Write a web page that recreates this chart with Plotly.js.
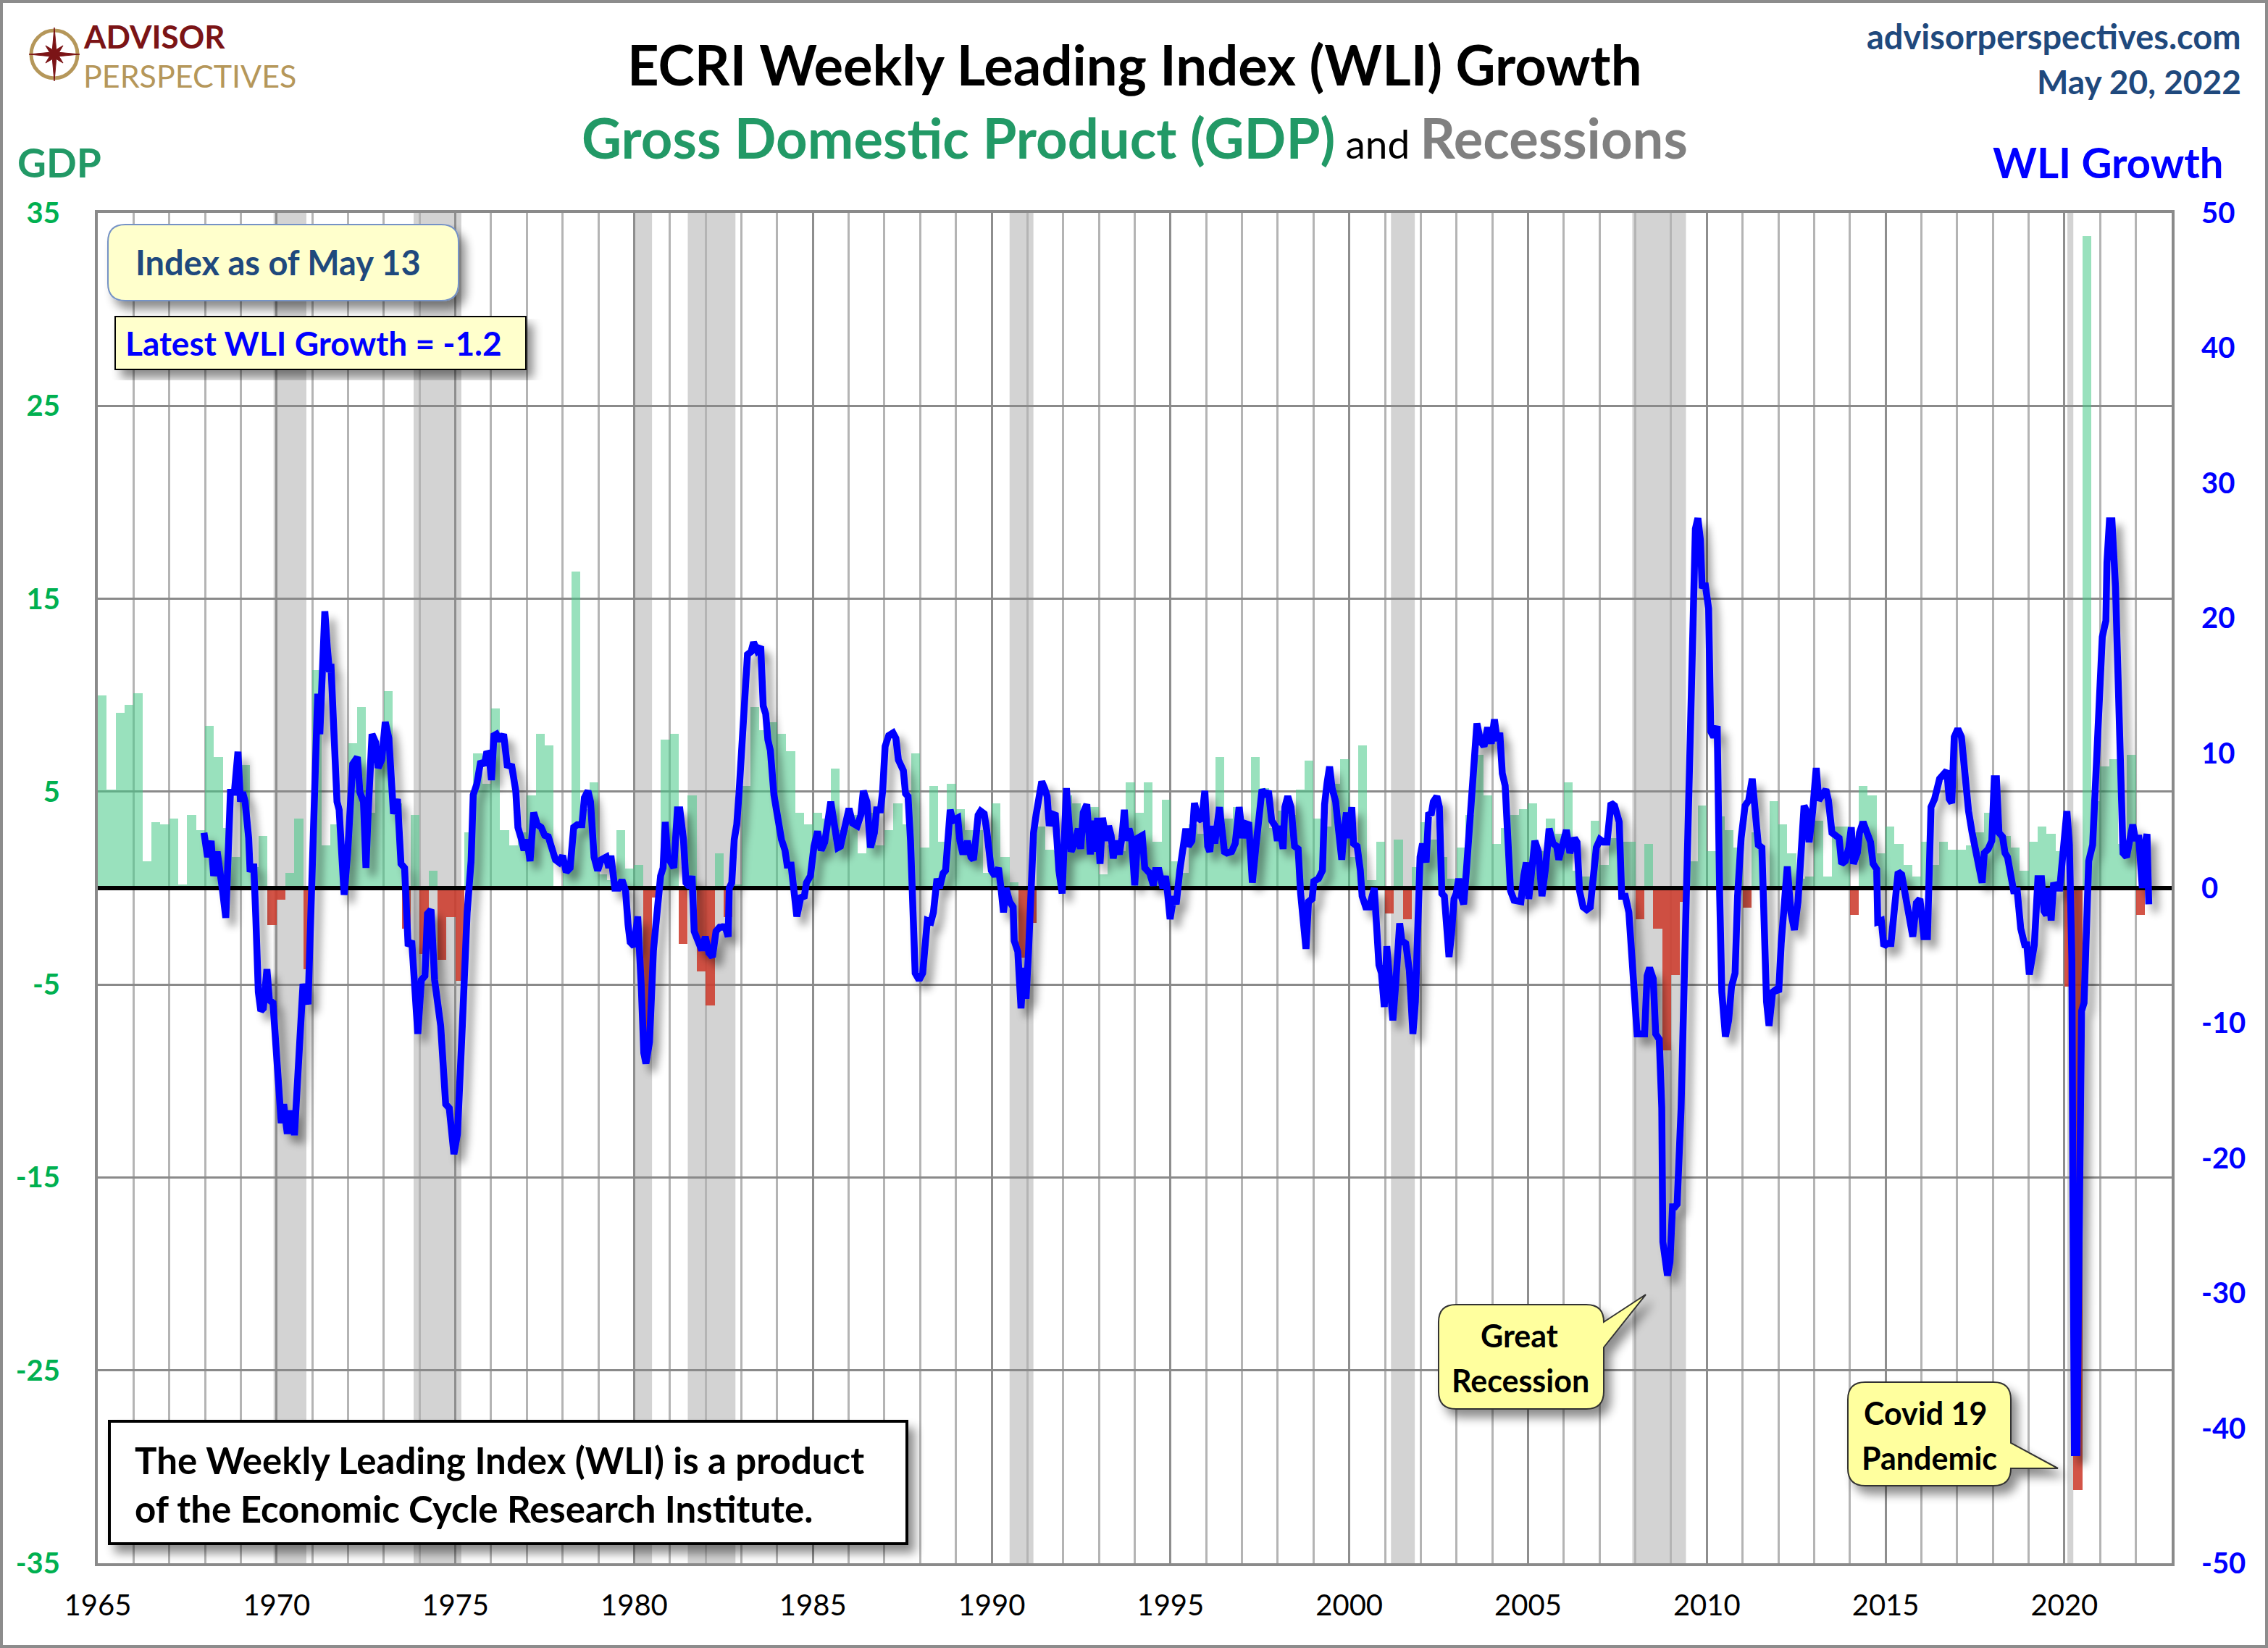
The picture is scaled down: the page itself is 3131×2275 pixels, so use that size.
<!DOCTYPE html>
<html>
<head>
<meta charset="utf-8">
<script src="https://cdn.plot.ly/plotly-3.0.1.min.js"></script>
<style>
html,body{margin:0;padding:0;background:#ffffff;}
#chart{width:3131px;height:2275px;}
</style>
</head>
<body>
<div id="chart"></div>
<script>
// ---------------- DATA ----------------
// Quarterly real GDP growth (annualized %), 1965 Q1 .. 2022 Q1
const gdpFirstYear = 1965;
const gdpGrowth = [
10.0,5.1,9.1,9.5,  10.1,1.4,3.4,3.3,  3.6,0.2,3.8,3.0,  8.4,6.8,3.1,1.6,  6.4,1.1,2.7,-1.9,
-0.6,0.8,3.6,-4.2, 11.3,2.2,3.3,1.1,  7.5,9.4,3.9,6.8,  10.2,4.4,-2.1,3.8, -3.4,0.9,-3.7,-1.5,
-4.8,2.9,7.0,5.4,  9.3,3.0,2.2,2.9,   4.8,8.0,7.4,0.0,  1.3,16.4,4.1,5.5, 0.7,0.4,3.0,1.0,
1.2,-8.0,-0.5,7.7, 8.0,-2.9,4.8,-4.3, -6.1,1.8,-1.5,0.2, 5.3,9.4,8.2,8.6, 8.0,7.1,3.9,3.3,
3.9,3.6,6.2,3.0,   3.8,1.8,3.9,2.2,   3.0,4.4,3.3,7.0,  2.1,5.3,2.4,5.4,  4.1,3.0,3.0,0.8,
4.4,1.6,0.3,-3.6,  -1.8,3.2,2.0,1.9,  4.8,4.4,4.0,4.2,  0.7,2.2,1.9,5.5,  3.9,5.5,2.4,4.6,
1.4,0.8,3.3,2.8,   2.6,6.8,3.6,4.2,   3.1,6.8,5.2,3.1,  4.0,3.8,5.1,6.6,  3.6,3.2,5.4,6.7,
1.6,7.4,0.4,2.4,   -1.3,2.5,-1.6,1.1, 3.4,2.5,1.6,0.5,  2.1,3.8,6.9,4.8,  2.3,3.1,3.8,4.1,
4.4,1.9,3.6,2.8,   5.5,0.9,0.6,3.5,   1.2,2.6,2.4,2.4,  -1.6,2.3,-2.1,-8.4, -4.5,-0.7,1.4,4.3,
1.9,3.7,3.0,2.1,   -1.0,2.9,-0.1,4.5, 3.3,1.8,0.5,0.6,  3.5,0.6,3.2,3.2,  -1.4,5.3,4.8,1.8,
3.2,2.3,1.2,0.6,   2.4,1.2,2.4,2.0,   2.0,2.2,2.9,3.9,  3.3,2.7,2.1,0.9,  2.4,3.2,2.8,1.9,
-5.1,-31.2,33.8,4.5, 6.3,6.7,2.3,6.9, -1.4
];

// ECRI WLI growth: [decimal year, growth %]
const wli1968to1975 = [
[1967.97,4.1],[1968.07,2.3],[1968.17,3.5],[1968.24,0.9],[1968.34,2.7],[1968.41,0.9],[1968.48,0.0],[1968.58,-2.2],
[1968.65,2.1],[1968.71,7.1],[1968.82,7.1],[1968.92,10.1],[1968.99,6.4],[1969.05,7.1],[1969.12,6.4],[1969.22,3.7],
[1969.26,1.2],[1969.36,1.8],[1969.42,-2.2],[1969.49,-7.7],[1969.56,-9.1],[1969.63,-8.9],[1969.73,-6.0],[1969.80,-8.3],
[1969.90,-8.5],[1969.96,-11.1],[1970.07,-16.0],[1970.13,-17.4],[1970.20,-16.0],[1970.30,-18.2],[1970.37,-16.7],[1970.44,-16.7],
[1970.50,-18.3],[1970.61,-13.9],[1970.74,-7.1],[1970.88,-8.6],[1970.98,0.3],[1971.08,10.1],[1971.11,14.3],[1971.15,14.4],
[1971.21,11.4],[1971.28,17.8],[1971.35,20.5],[1971.42,17.8],[1971.48,16.0],[1971.52,16.6],[1971.59,12.0],[1971.69,6.4],
[1971.75,5.8],[1971.82,2.1],[1971.89,-0.5],[1971.99,2.7],[1972.06,6.7],[1972.13,9.2],[1972.26,9.7],[1972.33,7.1],
[1972.43,6.4],[1972.50,1.5],[1972.56,5.5],[1972.67,11.4],[1972.77,10.8],[1972.84,8.9],[1972.94,9.5],[1973.04,12.3],
[1973.14,11.1],[1973.21,8.9],[1973.27,5.5],[1973.38,6.6],[1973.48,1.8],[1973.58,1.5],[1973.68,-4.3],[1973.78,-3.9],
[1973.85,-7.4],[1973.95,-10.8],[1974.05,-6.8],[1974.15,-6.5],[1974.22,-1.9],[1974.32,-1.6],[1974.42,-6.8],[1974.49,-8.0],
[1974.59,-10.2],[1974.73,-16.0],[1974.83,-16.3],[1974.96,-19.7],[1975.06,-18.2],[1975.20,-9.9]
];
const wli1975to1985 = [
[1975.33,-1.8],[1975.44,2.0],[1975.50,6.9],[1975.60,7.7],[1975.71,9.4],[1975.81,9.1],[1975.88,10.1],[1975.94,9.9],
[1976.01,8.0],[1976.08,11.3],[1976.15,11.4],[1976.25,10.9],[1976.35,11.4],[1976.45,9.1],[1976.58,9.0],[1976.69,7.2],
[1976.75,4.5],[1976.85,3.6],[1976.92,2.8],[1977.00,3.6],[1977.09,2.0],[1977.19,5.6],[1977.29,4.7],[1977.40,4.5],
[1977.50,3.9],[1977.60,3.8],[1977.70,2.8],[1977.80,2.1],[1977.90,1.9],[1978.00,2.4],[1978.10,1.2],[1978.21,1.5],
[1978.31,4.5],[1978.41,4.7],[1978.54,4.7],[1978.61,6.7],[1978.71,7.2],[1978.78,6.4],[1978.88,2.3],[1978.98,1.3],
[1979.08,2.1],[1979.22,2.3],[1979.29,1.5],[1979.35,2.4],[1979.46,0.0],[1979.56,0.0],[1979.66,0.6],[1979.76,-0.2],
[1979.83,-2.7],[1979.89,-4.0],[1980.00,-4.3],[1980.10,-2.1],[1980.20,-7.3],[1980.27,-12.2],[1980.33,-13.0],[1980.43,-11.4],
[1980.54,-4.6],[1980.64,-1.3],[1980.74,0.9],[1980.81,1.5],[1980.87,4.9],[1980.94,2.3],[1981.04,1.7],[1981.11,1.5],
[1981.21,5.8],[1981.28,5.8],[1981.38,3.6],[1981.45,0.4],[1981.55,0.1],[1981.62,0.9],[1981.68,-3.2],[1981.79,-4.0],
[1981.89,-4.6],[1981.99,-3.6],[1982.09,-4.8],[1982.19,-5.1],[1982.29,-3.2],[1982.39,-2.9],[1982.50,-2.9],[1982.53,-2.7],
[1982.63,-3.6],[1982.66,0.0],[1982.73,0.4],[1982.80,3.6],[1982.87,4.7],[1982.93,6.9],[1983.00,10.2],[1983.07,14.6],
[1983.17,17.3],[1983.27,17.5],[1983.34,18.2],[1983.44,17.6],[1983.54,17.9],[1983.61,13.5],[1983.68,12.9],[1983.74,11.0],
[1983.81,10.2],[1983.91,6.9],[1984.01,5.3],[1984.12,3.6],[1984.22,2.8],[1984.28,1.7],[1984.39,1.7],[1984.49,-0.7],
[1984.55,-2.1],[1984.66,-0.7],[1984.76,-0.6],[1984.82,0.4],[1984.93,0.9],[1985.03,3.1],[1985.13,4.2],[1985.23,2.8],
[1985.33,3.4]
];
const wli1985to1995 = [
[1985.50,6.4],[1985.60,4.8],[1985.70,3.0],[1985.77,3.1],[1985.87,4.4],[1986.01,5.9],[1986.11,4.8],[1986.24,4.6],
[1986.34,5.4],[1986.41,7.2],[1986.51,6.4],[1986.61,3.0],[1986.72,4.1],[1986.78,5.8],[1986.89,5.8],[1986.95,7.2],
[1987.02,10.5],[1987.12,11.3],[1987.24,11.5],[1987.32,11.1],[1987.39,9.5],[1987.53,8.7],[1987.59,7.0],[1987.66,6.8],
[1987.73,3.5],[1987.80,-4.1],[1987.86,-6.3],[1987.97,-6.8],[1988.07,-6.3],[1988.20,-2.4],[1988.30,-2.5],[1988.37,-1.8],
[1988.47,0.7],[1988.54,0.0],[1988.64,1.1],[1988.71,1.3],[1988.78,4.8],[1988.84,5.8],[1988.91,5.0],[1989.05,5.2],
[1989.11,3.5],[1989.18,2.7],[1989.25,2.7],[1989.32,3.5],[1989.42,2.3],[1989.49,2.1],[1989.55,3.5],[1989.62,5.4],
[1989.69,5.7],[1989.79,5.5],[1989.86,4.3],[1989.92,2.9],[1989.99,1.3],[1990.09,0.9],[1990.19,1.5],[1990.26,0.0],
[1990.33,-1.8],[1990.40,0.0],[1990.50,-1.0],[1990.60,-1.4],[1990.63,-3.9],[1990.73,-4.7],[1990.77,-6.5],[1990.82,-8.9],
[1990.89,-5.9],[1990.96,-8.2],[1991.03,-4.7],[1991.11,2.1],[1991.17,4.1],[1991.24,5.4],[1991.31,6.8],[1991.40,7.9],
[1991.48,7.4],[1991.55,6.8],[1991.61,4.6],[1991.68,5.5],[1991.78,5.4],[1991.88,1.3],[1991.97,-0.4],[1992.02,3.1],
[1992.09,7.4],[1992.15,5.2],[1992.22,2.7],[1992.32,3.3],[1992.42,4.4],[1992.49,2.9],[1992.56,5.6],[1992.66,6.2],
[1992.76,2.5],[1992.83,5.0],[1992.90,2.7],[1992.96,5.2],[1993.03,1.8],[1993.10,5.2],[1993.20,3.5],[1993.27,4.6],
[1993.34,3.9],[1993.40,2.2],[1993.47,3.5],[1993.57,2.5],[1993.64,3.7],[1993.71,5.8],[1993.77,3.5],[1993.84,4.4],
[1993.91,3.7],[1994.00,0.2],[1994.08,3.7],[1994.21,3.9],[1994.28,1.5],[1994.42,1.1],[1994.52,0.2],[1994.58,1.3],
[1994.68,1.3],[1994.79,0.0],[1994.86,0.9],[1994.92,-0.4],[1994.99,-2.3],[1995.09,-0.6],[1995.16,-1.2],[1995.26,1.3],
[1995.36,3.1],[1995.43,4.4],[1995.50,3.1],[1995.60,3.5]
];
const wli1995to2005 = [
[1995.67,6.3],[1995.77,5.2],[1995.87,5.0],[1995.96,7.2],[1996.04,3.1],[1996.10,2.7],[1996.17,4.6],[1996.24,3.3],
[1996.37,6.0],[1996.51,2.7],[1996.58,2.6],[1996.71,2.7],[1996.81,3.3],[1996.92,6.0],[1997.02,3.7],[1997.08,4.8],
[1997.19,4.7],[1997.29,0.4],[1997.39,3.1],[1997.49,6.0],[1997.56,7.3],[1997.66,6.8],[1997.74,7.2],[1997.83,5.0],
[1997.93,4.6],[1997.99,3.5],[1998.06,4.6],[1998.15,2.9],[1998.20,6.0],[1998.28,6.8],[1998.37,6.0],[1998.47,3.1],
[1998.57,2.9],[1998.64,-0.4],[1998.72,-3.4],[1998.79,-4.5],[1998.86,-1.0],[1998.96,-0.8],[1999.01,0.5],[1999.14,0.7],
[1999.25,1.3],[1999.31,6.2],[1999.38,7.8],[1999.45,9.0],[1999.52,7.4],[1999.62,6.4],[1999.68,4.8],[1999.79,2.1],
[1999.85,4.1],[1999.92,5.6],[1999.99,3.7],[2000.07,6.0],[2000.12,3.3],[2000.22,3.1],[2000.31,1.3],[2000.36,-0.6],
[2000.46,-1.4],[2000.56,-1.4],[2000.70,0.0],[2000.77,-3.7],[2000.83,-5.7],[2000.90,-6.3],[2000.98,-8.8],[2001.05,-4.3],
[2001.14,-7.1],[2001.22,-9.8],[2001.30,-7.1],[2001.41,-2.6],[2001.47,-3.9],[2001.58,-4.1],[2001.68,-6.1],[2001.78,-10.8],
[2001.85,-8.4],[2001.91,-2.6],[2001.98,2.3],[2002.05,3.3],[2002.15,1.9],[2002.22,5.6],[2002.29,5.4],[2002.35,6.4],
[2002.45,6.8],[2002.52,6.0],[2002.59,-0.4],[2002.66,-0.6],[2002.72,-2.8],[2002.79,-5.1],[2002.86,-3.4],[2002.93,-0.8],
[2002.99,-0.4],[2003.06,0.7],[2003.13,-0.6],[2003.20,-1.2],[2003.27,1.1],[2003.37,5.0],[2003.43,8.0],[2003.50,9.7],
[2003.57,12.2],[2003.67,10.9],[2003.77,10.5],[2003.87,11.9],[2003.97,10.7],[2004.06,12.5],[2004.14,10.9],[2004.21,11.5],
[2004.28,8.5],[2004.36,7.6],[2004.45,1.9],[2004.51,-0.2],[2004.61,-0.9],[2004.71,-0.9],[2004.80,-1.0],[2004.88,0.9],
[2004.95,1.9],[2005.02,-0.8],[2005.09,1.1],[2005.19,3.5],[2005.29,2.7],[2005.39,-0.6],[2005.49,1.5],[2005.59,4.4],
[2005.70,3.3],[2005.80,3.1],[2005.86,2.1],[2005.93,2.7]
];
const wli2006to2015 = [
[2006.07,4.3],[2006.17,2.6],[2006.30,3.7],[2006.37,3.4],[2006.44,-0.2],[2006.54,-1.4],[2006.64,-1.6],[2006.74,-1.4],
[2006.84,1.4],[2006.91,3.0],[2007.01,3.6],[2007.11,3.4],[2007.21,3.4],[2007.32,6.3],[2007.42,6.1],[2007.55,4.9],
[2007.62,-0.6],[2007.72,-0.6],[2007.82,-1.8],[2007.89,-4.5],[2007.96,-7.7],[2008.05,-10.8],[2008.16,-10.8],[2008.26,-10.8],
[2008.33,-6.5],[2008.40,-5.9],[2008.50,-6.7],[2008.57,-10.8],[2008.67,-11.2],[2008.74,-16.3],[2008.77,-26.2],[2008.84,-28.1],
[2008.90,-28.7],[2008.97,-27.7],[2009.04,-23.6],[2009.11,-23.6],[2009.17,-23.4],[2009.28,-16.3],[2009.38,-4.5],[2009.48,7.3],
[2009.55,11.2],[2009.62,23.8],[2009.68,26.6],[2009.75,27.4],[2009.82,25.8],[2009.87,22.2],[2009.95,22.6],[2010.05,20.7],
[2010.11,11.6],[2010.19,11.2],[2010.29,12.0],[2010.36,-0.6],[2010.42,-7.7],[2010.52,-11.0],[2010.61,-9.8],[2010.69,-7.3],
[2010.79,-6.3],[2010.86,-0.6],[2010.96,3.7],[2011.07,6.1],[2011.17,6.5],[2011.27,8.1],[2011.34,6.5],[2011.44,3.2],
[2011.54,3.0],[2011.61,-6.1],[2011.67,-8.4],[2011.74,-10.2],[2011.84,-7.7],[2011.94,-7.5],[2012.01,-7.7],[2012.08,-4.1],
[2012.18,-1.0],[2012.25,1.6],[2012.35,-1.8],[2012.45,-3.1],[2012.55,-1.0],[2012.65,2.6],[2012.72,6.1],[2012.79,5.7],
[2012.86,3.4],[2012.96,5.7],[2013.06,8.9],[2013.13,6.5],[2013.23,6.9],[2013.33,7.3],[2013.40,6.5],[2013.50,4.1],
[2013.60,3.9],[2013.70,3.7],[2013.77,1.8],[2013.87,2.0],[2013.97,3.0],[2014.04,4.5],[2014.10,1.8],[2014.21,2.6],
[2014.27,4.1],[2014.37,4.9],[2014.48,4.1],[2014.58,3.4],[2014.65,1.8],[2014.75,1.4],[2014.78,-2.5],[2014.88,-2.4],
[2014.95,-4.3],[2015.05,-4.1],[2015.15,-4.1],[2015.25,-1.4],[2015.35,1.2],[2015.45,1.0],[2015.52,-0.2],[2015.62,-1.8],
[2015.69,-2.5]
];
const wli2015to2022 = [
[2015.76,-3.6],[2015.86,-1.1],[2015.96,-0.8],[2016.07,-3.6],[2016.17,-3.6],[2016.27,6.0],[2016.37,6.6],[2016.51,8.1],
[2016.61,8.4],[2016.71,8.7],[2016.78,6.6],[2016.85,6.3],[2016.92,11.2],[2017.02,11.8],[2017.12,11.2],[2017.22,8.1],
[2017.32,5.7],[2017.42,4.1],[2017.53,2.6],[2017.59,2.3],[2017.70,0.4],[2017.76,2.6],[2017.87,2.9],[2017.97,3.5],
[2018.04,8.1],[2018.10,8.1],[2018.17,4.1],[2018.27,3.8],[2018.34,2.6],[2018.41,2.3],[2018.51,0.4],[2018.58,-0.2],
[2018.68,-0.2],[2018.78,-3.0],[2018.89,-4.2],[2018.95,-4.2],[2019.02,-6.4],[2019.09,-4.8],[2019.16,-4.2],[2019.26,0.7],
[2019.36,0.7],[2019.43,-1.7],[2019.50,-2.0],[2019.56,0.0],[2019.63,-2.4],[2019.70,0.4],[2019.77,0.0],[2019.87,0.0],
[2019.97,3.2],[2020.07,5.7],[2020.14,3.2],[2020.21,-5.4],[2020.24,-23.9],[2020.28,-41.8],[2020.35,-41.8],[2020.41,-23.9],
[2020.48,-9.1],[2020.55,-8.5],[2020.62,-2.4],[2020.68,2.0],[2020.79,3.2],[2020.85,6.3],[2020.92,10.6],[2020.99,14.9],
[2021.06,18.6],[2021.16,19.8],[2021.19,24.1],[2021.26,27.2],[2021.33,27.2],[2021.43,22.3],[2021.50,16.7],[2021.57,11.8],
[2021.64,2.6],[2021.74,2.3],[2021.84,4.1],[2021.91,4.7],[2021.98,3.7],[2022.08,3.7],[2022.18,0.0],[2022.24,3.1],
[2022.31,4.0],[2022.36,-1.2]
];

// NBER recessions (peak month, trough month)
const recessionStart = ['1969-12','1973-11','1980-01','1981-07','1990-07','2001-03','2007-12','2020-02'];
const recessionEnd   = ['1970-11','1975-03','1980-07','1982-11','1991-03','2001-11','2009-06','2020-04'];

// Axis ticks
const xTickYears  = [1965,1970,1975,1980,1985,1990,1995,2000,2005,2010,2015,2020];
const gdpTickVals = [-35,-25,-15,-5,5,15,25,35];
const gdpTickText = ['-35','-25','-15','-5','5','15','25','35'];
const wliTickVals = [-50,-40,-30,-20,-10,0,10,20,30,40,50];
const wliTickText = ['-50','-40','-30','-20','-10','0','10','20','30','40','50'];

// ---------------- BUILD ----------------
const FONT = 'Lato, "Open Sans", "DejaVu Sans", sans-serif';
const X0 = 1965, X1 = 2023;

const gdpX = gdpGrowth.map((v, i) => gdpFirstYear + i / 4 + 0.125);
const gdpColors = gdpGrowth.map(v => v >= 0 ? 'rgba(70,200,135,0.55)' : 'rgba(205,60,45,0.88)');

const wliAll = [].concat(wli1968to1975, wli1975to1985, wli1985to1995, wli1995to2005, wli2006to2015, wli2015to2022);
const wliX = wliAll.map(p => p[0]);
const wliY = wliAll.map(p => p[1]);

const ym = s => { const [y, m] = s.split('-').map(Number); return y + (m - 1) / 12; };

const traces = [
  { type:'bar', x:gdpX, y:gdpGrowth, width:0.25, marker:{color:gdpColors, line:{width:0}},
    yaxis:'y', hoverinfo:'skip', showlegend:false },
  { type:'scatter', mode:'lines', x:[X0, X1], y:[0, 0], line:{color:'#000000', width:6},
    yaxis:'y', hoverinfo:'skip', showlegend:false },
  { type:'scatter', mode:'lines', x:wliX, y:wliY, line:{color:'#0000FF', width:9.5},
    yaxis:'y2', hoverinfo:'skip', showlegend:false }
];

// pixel -> paper conversions for decoration layout
const ML = 135, MT = 294, PW = 2863, PH = 1864, PB = MT + PH;
const px = x => (x - ML) / PW;
const py = y => (PB - y) / PH;
const P = (x, y) => px(x).toFixed(5) + ',' + py(y).toFixed(5);

function roundRect(x0, y0, x1, y1, r, ptr) {
  let d = 'M' + P(x0 + r, y0) + ' L' + P(x1 - r, y0) + ' Q' + P(x1, y0) + ' ' + P(x1, y0 + r);
  if (ptr) d += ' L' + P(x1, ptr.ya) + ' L' + P(ptr.tx, ptr.ty) + ' L' + P(x1, ptr.yb);
  d += ' L' + P(x1, y1 - r) + ' Q' + P(x1, y1) + ' ' + P(x1 - r, y1) +
       ' L' + P(x0 + r, y1) + ' Q' + P(x0, y1) + ' ' + P(x0, y1 - r) +
       ' L' + P(x0, y0 + r) + ' Q' + P(x0, y0) + ' ' + P(x0 + r, y0) + ' Z';
  return d;
}
function star(cx, cy) {
  const pts = [];
  for (let k = 0; k < 16; k++) {
    const ang = -Math.PI / 2 + k * Math.PI / 8;
    let r;
    if (k % 2 === 1) r = 7;
    else if (k % 4 === 0) r = (k % 8 === 0) ? 37 : 35;
    else r = 17;
    pts.push(P(cx + r * Math.cos(ang), cy + r * Math.sin(ang)));
  }
  return 'M' + pts.join(' L') + ' Z';
}

const shapes = [];
recessionStart.forEach((s, i) => {
  shapes.push({ type:'rect', xref:'x', yref:'paper', x0:ym(s), x1:ym(recessionEnd[i]), y0:0, y1:1,
    fillcolor:'#D3D3D3', line:{width:0}, layer:'below' });
});
// outer frame
shapes.push({ type:'rect', xref:'paper', yref:'paper', x0:px(2), x1:px(3129), y0:py(2273), y1:py(2),
  line:{color:'#8C8C8C', width:4}, fillcolor:'rgba(0,0,0,0)', layer:'above' });
// logo
shapes.push({ type:'circle', xref:'paper', yref:'paper', x0:px(43), x1:px(107), y0:py(108), y1:py(42),
  line:{color:'#B5975A', width:5}, fillcolor:'rgba(0,0,0,0)', layer:'above' });
shapes.push({ type:'path', xref:'paper', yref:'paper', path:star(75, 75), fillcolor:'#7B1416',
  line:{color:'#7B1416', width:1}, layer:'above' });

const shadowIdx = [];
function addBox(shape) { shadowIdx.push(shapes.length); shapes.push(shape); }
addBox({ type:'path', xref:'paper', yref:'paper', path:roundRect(149, 310, 633, 415, 24),
  fillcolor:'#FFFFCC', line:{color:'#7592C6', width:2}, layer:'above' });
addBox({ type:'rect', xref:'paper', yref:'paper', x0:px(159), x1:px(726), y0:py(510), y1:py(437),
  fillcolor:'#FFFFCC', line:{color:'#000000', width:2}, layer:'above' });
addBox({ type:'rect', xref:'paper', yref:'paper', x0:px(151), x1:px(1252), y0:py(2131), y1:py(1962),
  fillcolor:'#FFFFFF', line:{color:'#000000', width:4}, layer:'above' });
addBox({ type:'path', xref:'paper', yref:'paper',
  path:roundRect(1986, 1801, 2214, 1945, 24, {ya:1825, yb:1860, tx:2272, ty:1787}),
  fillcolor:'#FFFF9E', line:{color:'#333333', width:2}, layer:'above' });
addBox({ type:'path', xref:'paper', yref:'paper',
  path:roundRect(2551, 1908, 2776, 2051, 24, {ya:1992, yb:2027, tx:2841, ty:2027}),
  fillcolor:'#FFFF9E', line:{color:'#333333', width:2}, layer:'above' });

function ann(text, x, y, size, color, xanchor, extra) {
  return Object.assign({ xref:'paper', yref:'paper', x:px(x), y:py(y), text:text, showarrow:false,
    xanchor:xanchor || 'center', yanchor:'middle', font:{family:FONT, size:size, color:color} }, extra || {});
}

const annotations = [
  ann('<b>ECRI Weekly Leading Index (WLI) Growth</b>', 1566, 88, 76, '#000000'),
  ann('<b>Gross Domestic Product (GDP)</b><span style="font-size:55px;color:#000000"> and </span><b><span style="color:#808080">Recessions</span></b>',
      1566, 190, 76, '#229966'),
  ann('<b>advisorperspectives.com</b>', 3096, 50, 47, '#1F497D', 'right'),
  ann('<b>May 20, 2022</b>', 3096, 112, 46, '#1F497D', 'right'),
  ann('<b>GDP</b>', 22, 224, 55, '#229966', 'left'),
  ann('<b>WLI Growth</b>', 3072, 224, 58, '#0000FF', 'right'),
  ann('<b>ADVISOR</b>', 113, 50, 44, '#7B1416', 'left'),
  ann('PERSPECTIVES', 113, 104, 43, '#B5975A', 'left'),
  ann('<b>Index as of May 13</b>', 384, 362, 47, '#1F497D'),
  ann('<b>Latest WLI Growth = -1.2</b>', 433, 473, 46, '#0000FF'),
  ann('<b>The Weekly Leading Index (WLI) is a product</b>', 184, 2015, 51, '#000000', 'left'),
  ann('<b>of the Economic Cycle Research Institute.</b>', 184, 2082, 51, '#000000', 'left'),
  ann('<b>Great</b>', 2097, 1843, 43, '#000000'),
  ann('<b>Recession</b>', 2099, 1905, 43, '#000000'),
  ann('<b>Covid 19</b>', 2658, 1950, 43, '#000000'),
  ann('<b>Pandemic</b>', 2663, 2012, 43, '#000000')
];

const layout = {
  width:3131, height:2275,
  margin:{l:ML, r:3131 - ML - PW, t:MT, b:2275 - PB, pad:0},
  paper_bgcolor:'#FFFFFF', plot_bgcolor:'#FFFFFF',
  showlegend:false, bargap:0, barmode:'overlay',
  font:{family:FONT, size:40, color:'#000000'},
  xaxis:{ range:[X0, X1], tickmode:'array', tickvals:xTickYears, ticktext:xTickYears.map(String),
    showgrid:true, gridcolor:'#8E8E8E', gridwidth:3,
    minor:{ tickmode:'linear', tick0:X0, dtick:1, showgrid:true, gridcolor:'#B4B4B4', gridwidth:3, ticks:'' },
    zeroline:false, showline:true, mirror:true, linecolor:'#8A8A8A', linewidth:4, ticks:'',
    tickfont:{family:FONT, size:40, color:'#000000'}, ticklabelstandoff:20 },
  yaxis:{ range:[-35, 35], tickmode:'array', tickvals:gdpTickVals, ticktext:gdpTickText,
    showgrid:true, gridcolor:'#8A8A8A', gridwidth:3, zeroline:false,
    showline:true, mirror:true, linecolor:'#8A8A8A', linewidth:4, ticks:'',
    tickfont:{family:FONT, size:40, color:'#00B050', weight:700}, ticklabelstandoff:40 },
  yaxis2:{ range:[-50, 50], overlaying:'y', side:'right', tickmode:'array', tickvals:wliTickVals, ticktext:wliTickText,
    showgrid:false, zeroline:false, showline:false, ticks:'',
    tickfont:{family:FONT, size:40, color:'#0000FF', weight:700}, ticklabelstandoff:40 },
  shapes:shapes,
  annotations:annotations
};

const gd = document.getElementById('chart');
Plotly.newPlot(gd, traces, layout, {staticPlot:true, displayModeBar:false}).then(() => {
  const svg = gd.querySelector('svg.main-svg');
  const NS = 'http://www.w3.org/2000/svg';
  let defs = svg.querySelector('defs');
  if (!defs) { defs = document.createElementNS(NS, 'defs'); svg.insertBefore(defs, svg.firstChild); }
  function mkShadow(id, blur, dx, dy, alpha) {
    const f = document.createElementNS(NS, 'filter');
    f.setAttribute('id', id);
    f.setAttribute('x', '-10%'); f.setAttribute('y', '-10%');
    f.setAttribute('width', '130%'); f.setAttribute('height', '130%');
    f.innerHTML = '<feGaussianBlur in="SourceAlpha" stdDeviation="' + blur + '"/>' +
      '<feOffset dx="' + dx + '" dy="' + dy + '" result="o"/>' +
      '<feComponentTransfer><feFuncA type="linear" slope="' + alpha + '"/></feComponentTransfer>' +
      '<feMerge><feMergeNode/><feMergeNode in="SourceGraphic"/></feMerge>';
    defs.appendChild(f);
  }
  mkShadow('lineShadow', 6, 9, 11, 0.4);
  mkShadow('boxShadow', 7, 9, 11, 0.45);
  gd.querySelectorAll('.scatterlayer path.js-line').forEach(p => {
    const s = (p.style.stroke || p.getAttribute('stroke') || '').replace(/\s/g, '');
    if (s === 'rgb(0,0,255)' || s.toLowerCase() === '#0000ff') p.setAttribute('filter', 'url(#lineShadow)');
  });
  gd.querySelectorAll('.shapelayer path[data-index]').forEach(p => {
    const idx = Number(p.getAttribute('data-index'));
    if (shadowIdx.indexOf(idx) >= 0) p.setAttribute('filter', 'url(#boxShadow)');
  });
});
</script>
</body>
</html>
